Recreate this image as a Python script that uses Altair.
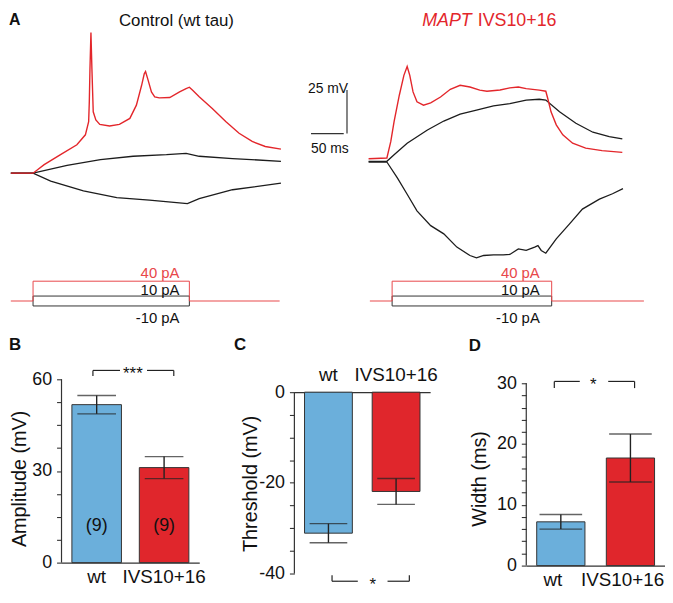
import altair as alt
import pandas as pd

FONT = "Liberation Sans"
RED = "#E3262B"
PROT_RED = "#E8474A"
BLUE = "#6BAFDB"
BAR_RED = "#E0262C"
DARK = "#1c1c1c"

# ---------------- Panel A: voltage traces (time in ms from step onset, mV from rest) ----------------
ctrl_red_t = [-34, 0, 17, 42, 67, 80, 85, 86, 87, 88.5, 90, 92, 96, 102, 117, 132, 148, 158, 166, 170, 172,
              176, 181, 186, 193, 209, 224, 234, 239, 244, 254, 274, 295, 315, 335, 355, 379]
ctrl_red_v = [0, 0, 4.9, 10.6, 16.3, 22, 29.5, 40.9, 59.8, 80.7, 59.8, 35.2, 30.5, 28, 27.1, 28, 31.4, 39, 50.4,
              57, 58.3, 53.2, 46.6, 43.8, 43.2, 43.4, 46.6, 48.5, 49.3, 47.5, 43.8, 37.1, 29.5, 22.9, 18.2, 15.3, 13.8]
ctrl_up_t = [-34, 0, 52, 103, 153, 204, 234, 254, 305, 379]
ctrl_up_v = [0, 0, 4.5, 7.8, 9.7, 10.6, 11.4, 9.7, 8.4, 6.8]
ctrl_dn_t = [-34, 0, 27, 77, 128, 178, 236, 254, 305, 379]
ctrl_dn_v = [0, 0, -4.5, -10.2, -14, -15.5, -17.4, -14.6, -9.5, -5.7]

mut_red_t = [-29, -1, 5, 10, 18, 25, 30, 34, 39, 45, 55, 66, 81, 96, 111, 126, 141, 152, 172, 187,
             200, 212, 232, 242, 245, 250, 258, 268, 283, 303, 328, 359]
mut_red_v = [1.2, 1.6, 11.1, 22.4, 37.6, 49, 54.1, 49, 39.5, 33.8, 31.9, 33.2, 36.6, 41, 43.3, 42.3, 40.5, 39.9,
             40.6, 41.8, 42.3, 41.4, 40.5, 39.9, 35.7, 28.1, 20.6, 14.9, 10.1, 7.3, 5.8, 4.8]
mut_up_t = [-29, -1, 10, 30, 61, 86, 111, 136, 162, 187, 212, 232, 242, 263, 288, 314, 339, 359]
mut_up_v = [-0.3, -0.3, 3.5, 10.1, 17.7, 22.8, 26.8, 29.1, 31.5, 32.8, 34.8, 35.3, 34.8, 28.1, 21.5, 16.4, 13.9, 12.6]
mut_dn_t = [-29, -1, 15, 30, 45, 66, 86, 106, 126, 136, 147, 162, 177, 187, 200, 212, 225, 230, 235, 242,
            258, 278, 298, 324, 344, 360]
mut_dn_v = [-0.7, -0.7, -9.8, -19.2, -28.7, -37.2, -41.9, -49.5, -54.3, -55.6, -54.3, -53.9, -53.9, -53.7, -50.5,
            -51.4, -49.5, -48.6, -51.4, -53, -44.8, -36.3, -27.7, -22, -18.9, -16]

# current-step protocol (pA)
step_amps = [40, 10, -10]
step_labels = ["40 pA", "10 pA", "-10 pA"]
ctrl_protocol = [-34, 0, 239, 377]   # record start, step on, step off, record end (ms)
mut_protocol = [-27, 7, 251, 392]

# scale bar: 50 ms, 25 mV
bar_ms = [425, 475]
bar_mv = [22.7, 47.7]
bar_vx = 480

# ---------------- Panels B-D: summary bars ----------------
groups = ["wt", "IVS10+16"]
amp_mean = [51.7, 31.1]
amp_sem = [3.0, 3.6]
n_cells = ["(9)", "(9)"]
thr_mean = [-31.1, -21.9]
thr_sem = [2.1, 2.85]
wid_mean = [7.2, 17.7]
wid_sem = [1.2, 3.95]

amp_ticks = [0, 7.5, 15, 22.5, 30, 37.5, 45, 52.5, 60]
thr_ticks = [-40, -35, -30, -25, -20, -15, -10, -5, 0]
wid_ticks = [0, 2, 4, 6, 8, 10, 12, 14, 16, 18, 20, 22, 24, 26, 28, 30]

ONE = pd.DataFrame({"k": [0]})


def txt(text, x, y, size, color="#111", align="left", weight="normal", style="normal", baseline="alphabetic"):
    return alt.Chart(ONE).mark_text(text=text, fontSize=size, font=FONT, color=color, align=align,
                                    fontWeight=weight, fontStyle=style, baseline=baseline).encode(
        x=alt.value(x), y=alt.value(y))


def anchor(x, y1, y2):
    # invisible, zero-width layout anchor
    return alt.Chart(ONE).mark_rule(strokeOpacity=0, strokeWidth=0).encode(
        x=alt.value(x), y=alt.value(y1), y2=alt.value(y2))


def line_df(t, v, name):
    return pd.DataFrame({"t": t, "v": v, "trace": name, "i": list(range(len(t)))})


def protocol_frames(p):
    t0, on, off, t1 = p
    red_t = [t0, on, on, off, off, t1]
    red_a = [0, 0, step_amps[0], step_amps[0], 0, 0]
    red = pd.DataFrame({"t": red_t, "pA": red_a, "seg": "s0", "i": list(range(6))})
    blacks = []
    for k, amp in enumerate(step_amps[1:], start=1):
        blacks.append(pd.DataFrame({"t": [on, on, off, off], "pA": [0, amp, amp, 0], "seg": f"s{k}",
                                    "i": list(range(4))}))
    return red, pd.concat(blacks)


TOP_H = 372
PA_DOM = [-158, 586]


def trace_panel(xdom, vdom, width, red, ups, protocol, lab_dx, extra_layers):
    X = alt.X("t:Q", scale=alt.Scale(domain=xdom, nice=False, zero=False), axis=None)
    V = alt.Y("v:Q", scale=alt.Scale(domain=vdom, nice=False, zero=False), axis=None)
    P = alt.Y("pA:Q", scale=alt.Scale(domain=PA_DOM, nice=False, zero=False), axis=None)
    black_df = pd.concat([line_df(t, v, f"b{j}") for j, (t, v) in enumerate(ups)])
    blacks = alt.Chart(black_df).mark_line(color=DARK, strokeWidth=1.3).encode(
        x=X, y=V, detail="trace:N", order="i:Q")
    reds = alt.Chart(line_df(red[0], red[1], "r")).mark_line(color=RED, strokeWidth=1.4).encode(
        x=X, y=V, order="i:Q")
    pred, pblack = protocol_frames(protocol)
    prot_b = alt.Chart(pblack).mark_line(strokeWidth=1, color="#333").encode(
        x=X, y=P, detail="seg:N", order="i:Q")
    prot_r = alt.Chart(pred).mark_line(strokeWidth=1, color=PROT_RED).encode(x=X, y=P, order="i:Q")
    layers = [anchor(0, 0, TOP_H), blacks, reds, prot_b, prot_r]
    dys = [-3, -1.5, 17]
    cols = [PROT_RED, "#111", "#111"]
    for amp, lab, dy, c in zip(step_amps, step_labels, dys, cols):
        d = pd.DataFrame({"t": [protocol[2]], "pA": [amp], "lab": [lab]})
        layers.append(alt.Chart(d).mark_text(align="right", baseline="alphabetic", dx=lab_dx, dy=dy,
                                             fontSize=15, font=FONT, color=c).encode(x=X, y=P, text="lab:N"))
    for lay in extra_layers:
        layers.append(lay(X, V))
    return alt.layer(*layers).resolve_scale(y="independent").properties(width=width, height=TOP_H)


def scalebar(X, V):
    d = pd.DataFrame({"t": [bar_ms[0], bar_vx], "t2": [bar_ms[1], bar_vx],
                      "v": [bar_mv[0], bar_mv[0]], "v2": [bar_mv[0], bar_mv[1]]})
    r = alt.Chart(d).mark_rule(color="#333", strokeWidth=1.2).encode(x=X, x2="t2:Q", y=V, y2="v2:Q")
    l1 = alt.Chart(pd.DataFrame({"t": [bar_vx], "v": [bar_mv[1]], "s": ["25 mV"]})).mark_text(
        align="right", baseline="alphabetic", dx=1, dy=3, fontSize=14, font=FONT, color="#111").encode(
        x=X, y=V, text="s:N")
    l2 = alt.Chart(pd.DataFrame({"t": [bar_ms[0]], "v": [bar_mv[0]], "s": ["50 ms"]})).mark_text(
        align="left", baseline="alphabetic", dx=0, dy=20, fontSize=14, font=FONT, color="#111").encode(
        x=X, y=V, text="s:N")
    return alt.layer(r, l1, l2)


def left_titles(X, V):
    return alt.layer(txt("A", 0, 14, 16, weight="bold"),
                     txt("Control (wt tau)", 169, 15, 17, align="center"))


def right_titles(X, V):
    return alt.layer(txt("MAPT", 67, 15, 18, color=RED, style="italic"),
                     txt("IVS10+16", 123, 15, 18, color=RED))


left = trace_panel([-36.8, 493.5], [-118.2, 93.2], 350, (ctrl_red_t, ctrl_red_v),
                   [(ctrl_up_t, ctrl_up_v), (ctrl_dn_t, ctrl_dn_v)], ctrl_protocol, -10,
                   [scalebar, left_titles])
right = trace_panel([-48.5, 416.7], [-125.3, 86.1], 307, (mut_red_t, mut_red_v),
                    [(mut_up_t, mut_up_v), (mut_dn_t, mut_dn_v)], mut_protocol, -12,
                    [right_titles])


def bar_panel(means, sems, ydom, ax_range, ticks, lab_every, ytitle, w, h, pin, pout, cap, x_orient, x_pad,
              x_off, x_axis_offset, title_x, title_y, letter, lx, ly, bracket, nlab=None, extra=None):
    df = pd.DataFrame({"group": groups, "mean": means,
                       "lo": [m - s for m, s in zip(means, sems)],
                       "hi": [m + s for m, s in zip(means, sems)]})
    if nlab is not None:
        df["nlab"] = nlab
    xaxis = alt.Axis(orient=x_orient, title=None, labelAngle=0, ticks=False, tickSize=0, labelPadding=x_pad,
                     labelFontSize=19, labelOffset=x_off, domainWidth=1.2, offset=x_axis_offset)
    X = alt.X("group:N", sort=groups, scale=alt.Scale(domain=groups, paddingInner=pin, paddingOuter=pout),
              axis=xaxis)
    yaxis = alt.Axis(values=ticks, tickCount=100,
                     labelExpr=f"datum.value % {lab_every} === 0 ? '' + datum.value : ''",
                     tickSize=5, labelPadding=5, labelFontSize=18, labelOverlap=False, title=ytitle,
                     titleFontSize=20, titleAngle=270, titleBaseline="top", titleAlign="center",
                     titleX=title_x, titleY=title_y, domain=False, grid=False, tickWidth=1.1)

    def Y(f):
        return alt.Y(f"{f}:Q", scale=alt.Scale(domain=ydom, nice=False), axis=yaxis)

    bars = alt.Chart(df).mark_bar(stroke="#333", strokeWidth=1).encode(
        x=X, y=Y("mean"), y2=alt.datum(0),
        color=alt.Color("group:N", scale=alt.Scale(domain=groups, range=[BLUE, BAR_RED]), legend=None))
    err = alt.Chart(df).mark_rule(color="#222", strokeWidth=1.4).encode(x=X, y=Y("lo"), y2="hi:Q")
    cap_lo = alt.Chart(df).mark_tick(color="#222", thickness=1.4, size=cap).encode(x=X, y=Y("lo"))
    cap_hi = alt.Chart(df).mark_tick(color="#222", thickness=1.4, size=cap).encode(x=X, y=Y("hi"))
    # y-axis line, spanning the labelled range only
    yline = alt.Chart(ONE).mark_rule(color="#333", strokeWidth=1.2).encode(
        x=alt.value(0), y=alt.datum(ax_range[0]), y2=alt.datum(ax_range[1]))
    layers = [bars, err, cap_lo, cap_hi, yline]
    if extra is not None:
        layers.append(extra)
    if nlab is not None:
        layers.append(alt.Chart(df).mark_text(fontSize=18, font=FONT, baseline="middle", color="#111").encode(
            x=X, y=alt.datum(11.9), text="nlab:N"))
    (x1, g1, g2, x2), yb, yt, stars, xs = bracket
    for a, b in [(x1, g1), (g2, x2)]:
        layers.append(alt.Chart(ONE).mark_rule(color="#222", strokeWidth=1.2).encode(
            x=alt.value(a), x2=alt.value(b), y=alt.datum(yb)))
    for a in [x1, x2]:
        layers.append(alt.Chart(ONE).mark_rule(color="#222", strokeWidth=1.2).encode(
            x=alt.value(a), y=alt.datum(yb), y2=alt.datum(yt)))
    layers.append(alt.Chart(ONE).mark_text(text=stars, fontSize=17, font=FONT, align="center",
                                           baseline="middle", dy=4, color="#111").encode(
        x=alt.value(xs), y=alt.datum(yb)))
    layers.append(txt(letter, lx, ly, 17, weight="bold"))
    return alt.layer(*layers).properties(width=w, height=h)


def spacer(w, h):
    return anchor(0, 0, 0).properties(width=w, height=h)


ROW2_ANCHOR = 50

B = bar_panel(amp_mean, amp_sem, [0, 60], [0, 60], amp_ticks, 30, "Amplitude (mV)", 139, 185, 0.265, 0.154, 39,
              "bottom", 5, 0, 0, -52, 100, "B", -53, -30, ((31.7, 59, 86.3, 113.3), 62.9, 61.1, "***", 72),
              nlab=n_cells, extra=anchor(-53, -ROW2_ANCHOR, 0))
C = bar_panel(thr_mean, thr_sem, [-40, 2.84], [-40, 0], thr_ticks, 20, "Threshold (mV)", 137, 196, 0.293, 0.15,
              38, "top", 8, 0, -13, -54, 105, "C", -61, -30, ((38, 64, 94, 116), -41.7, -40.4, "*", 79))
D = bar_panel(wid_mean, wid_sem, [0, 30.65], [0, 30], wid_ticks, 10, "Width (ms)", 140, 188, 0.307, 0.15, 43,
              "bottom", 5, -8, 0, -57, 100, "D", -58, -29, ((28.3, 54, 82.7, 109.3), 30.3, 29.2, "*", 67.7))

top = alt.hconcat(left, right, spacing=0, bounds="flush")
bottom = alt.hconcat(spacer(53, 1), B, spacer(96, 1), C, spacer(97, 1), D, spacing=0, bounds="flush")

chart = alt.vconcat(top, bottom, spacing=-ROW2_ANCHOR).properties(padding=0).configure_view(
    strokeWidth=0).configure_axis(
    labelFont=FONT, titleFont=FONT, domainColor="#333", tickColor="#333", labelColor="#111",
    titleColor="#111", titleFontWeight="normal", grid=False)

chart.save("out.html", embed_options={"renderer": "svg", "actions": False})
